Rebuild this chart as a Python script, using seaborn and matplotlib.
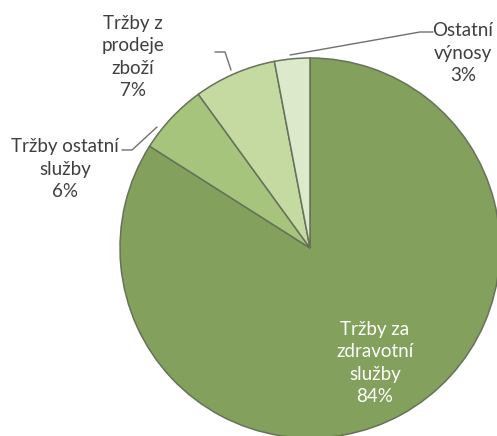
import matplotlib
matplotlib.use("Agg")
import matplotlib.pyplot as plt
import seaborn as sns

sns.set_theme(style="white")
plt.rcParams['font.family'] = ['Lato', 'DejaVu Sans']

categories = ["Tržby za\nzdravotní\nslužby", "Tržby ostatní\nslužby", "Tržby z\nprodeje\nzboží", "Ostatní\nvýnosy"]
values = [84, 6, 7, 3]
colors = ["#83a05c", "#a6c47c", "#c4daa0", "#dce9ca"]

W, H = 497, 436
cx, cy, R = 310, 248, 190

fig = plt.figure(figsize=(W / 100, H / 100), dpi=100)
ax = fig.add_axes([0, 0, 1, 1])

wedges, _ = ax.pie(values, colors=colors, startangle=90, counterclock=False,
                   wedgeprops=dict(edgecolor="#66725b", linewidth=1.1))

def d(px, py):
    return ((px - cx) / R, (cy - py) / R)

ax.set_xlim(-cx / R, (W - cx) / R)
ax.set_ylim((cy - H) / R, cy / R)
ax.set_aspect('auto')
ax.axis('off')

fs = 13.5
ls = 1.38
tc = "#3f3f3f"
# inside label
x, y = d(375, 363)
ax.text(x, y, f"{categories[0]}\n{values[0]}%", ha="center", va="center",
        fontsize=fs, color="white", linespacing=ls)
# outer labels
x, y = d(65, 169)
ax.text(x, y, f"{categories[1]}\n{values[1]}%", ha="center", va="center",
        fontsize=fs, color=tc, linespacing=ls)
x, y = d(133, 57)
ax.text(x, y, f"{categories[2]}\n{values[2]}%", ha="center", va="center",
        fontsize=fs, color=tc, linespacing=ls)
x, y = d(463, 53)
ax.text(x, y, f"{categories[3]}\n{values[3]}%", ha="center", va="center",
        fontsize=fs, color=tc, linespacing=ls)

# leader lines
lc = "#6f6f6f"
for pts in [[(122, 150), (132, 150), (157, 127)],
            [(215, 52), (225, 52), (231, 70)],
            [(433, 32), (420, 32), (290, 55)]]:
    xs, ys = zip(*[d(*p) for p in pts])
    ax.plot(xs, ys, color=lc, lw=1.0)

fig.savefig("out.png", dpi=100)
